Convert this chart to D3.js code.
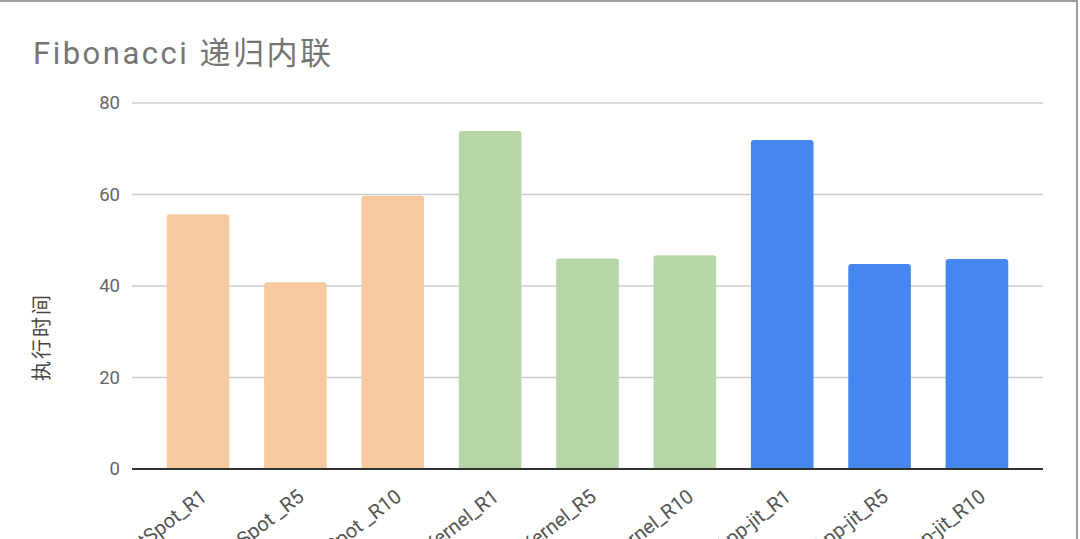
<!DOCTYPE html>
<html>
<head>
<meta charset="utf-8">
<script src="https://cdnjs.cloudflare.com/ajax/libs/d3/7.8.5/d3.min.js"></script>
<style>
	html, body { margin: 0; padding: 0; background: #fff; overflow: hidden; }
	text { font-family: Roboto, "Noto Sans CJK SC", sans-serif; }
</style>
</head>
<body>
<svg width="1080" height="539"></svg>
<script>
// chart data
var categories = ["HotSpot_R1", "HotSpot _R5", "HotSpot _R10",
	"Kernel_R1", "Kernel_R5", "Kernel_R10",
	"App-jit_R1", "App-jit_R5", "App-jit_R10"];
var groups = ["hotspot", "hotspot", "hotspot", "kernel", "kernel", "kernel", "jit", "jit", "jit"];
var values = [55.7, 40.8, 59.7, 73.9, 46, 46.7, 71.9, 44.8, 45.9];
var yTicks = [0, 20, 40, 60, 80];

var TITLE = "Fibonacci 递归内联";
var Y_TITLE = "执行时间";

var groupColors = { hotspot: "#f6ca9e", kernel: "#b7d6a8", jit: "#4587ee" };

var svg = d3.select("svg");

var margin = { top: 103, left: 132, right: 1080 - 1043, bottom: 539 - 469 };

var x = d3.scaleBand()
	.domain(categories)
	.range([margin.left, 1080 - margin.right])
	.padding(0.357);

var y = d3.scaleLinear()
	.domain([0, 80])
	.range([539 - margin.bottom, margin.top]);

// frame edges (top and right)
svg.append("line")
	.attr("x1", 0).attr("x2", 1078).attr("y1", 1).attr("y2", 1)
	.attr("stroke", "#9e9e9e").attr("stroke-width", 2);
svg.append("line")
	.attr("x1", 1077).attr("x2", 1077).attr("y1", 0).attr("y2", 539)
	.attr("stroke", "#9e9e9e").attr("stroke-width", 2);

// title
svg.append("text")
	.attr("x", 33)
	.attr("y", 64)
	.attr("font-size", 31)
	.attr("letter-spacing", 2.5)
	.attr("fill", "#757575")
	.text(TITLE);

// gridlines
svg.append("g")
	.selectAll("line")
	.data(yTicks.filter(function(d) { return d > 0; }))
	.enter().append("line")
		.attr("x1", margin.left)
		.attr("x2", 1080 - margin.right)
		.attr("y1", function(d) { return y(d); })
		.attr("y2", function(d) { return y(d); })
		.attr("stroke", "#cccccc")
		.attr("stroke-width", 1.5);

// y tick labels
svg.append("g")
	.selectAll("text")
	.data(yTicks)
	.enter().append("text")
		.attr("x", 120)
		.attr("y", function(d) { return y(d); })
		.attr("dy", "0.35em")
		.attr("text-anchor", "end")
		.attr("font-size", 18.5)
		.attr("fill", "#666")
		.text(function(d) { return d; });

// y axis title
svg.append("text")
	.attr("transform", "translate(49," + 337 + ") rotate(-90)")
	.attr("text-anchor", "middle")
	.attr("font-size", 20)
	.attr("letter-spacing", 2)
	.attr("fill", "#444")
	.text(Y_TITLE);

// bars, rounded on top only
var r = 3;
svg.append("g")
	.selectAll("path")
	.data(categories)
	.enter().append("path")
		.attr("fill", function(d, i) { return groupColors[groups[i]]; })
		.attr("d", function(d, i) {
			var x0 = x(d), w = x.bandwidth();
			var yt = y(values[i]), yb = y(0);
			return "M" + x0 + "," + yb +
				"V" + (yt + r) +
				"Q" + x0 + "," + yt + " " + (x0 + r) + "," + yt +
				"H" + (x0 + w - r) +
				"Q" + (x0 + w) + "," + yt + " " + (x0 + w) + "," + (yt + r) +
				"V" + yb + "Z";
		});

// zero axis
svg.append("line")
	.attr("x1", margin.left)
	.attr("x2", 1080 - margin.right)
	.attr("y1", y(0))
	.attr("y2", y(0))
	.attr("stroke", "#333")
	.attr("stroke-width", 2);

// x labels, rotated (they run off the bottom edge, as in the reference)
svg.append("g")
	.selectAll("text")
	.data(categories)
	.enter().append("text")
		.attr("transform", function(d) {
			return "translate(" + (x(d) + x.bandwidth() / 2 + 10) + "," + 499 + ") rotate(-38)";
		})
		.attr("text-anchor", "end")
		.attr("font-size", 20)
		.attr("fill", "#555")
		.text(function(d) { return d; });
</script>
</body>
</html>
